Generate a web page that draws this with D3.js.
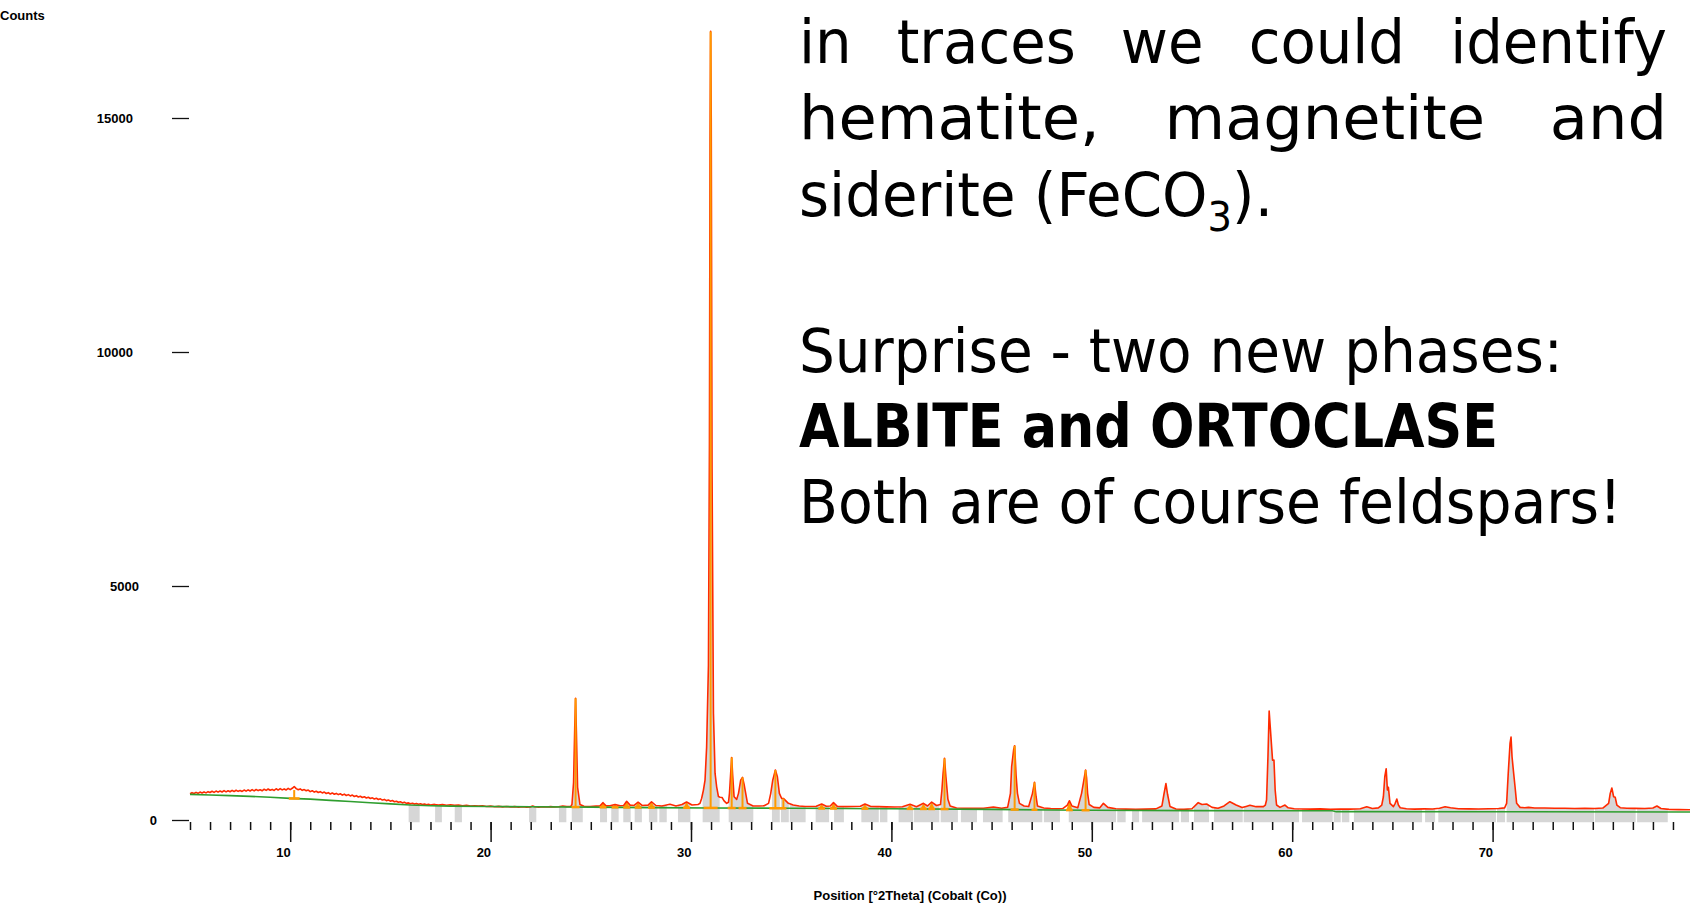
<!DOCTYPE html>
<html><head><meta charset="utf-8">
<script src="https://cdn.jsdelivr.net/npm/d3@7/dist/d3.min.js"></script>
<style>
html,body{margin:0;padding:0;background:#fff;overflow:hidden}
svg{display:block}
</style></head><body>
<svg id="chart" width="1690" height="905"></svg>
<script>
// ---------------- DATA ----------------
// observed XRD profile: [2theta (deg), counts]
const observed = [
[5.0,562],[5.1,584],[5.2,566],[5.3,590],[5.4,570],[5.5,596],[5.6,578],[5.7,600],[5.8,580],[5.9,606],
[6.0,588],[6.1,614],[6.2,590],[6.3,618],[6.4,596],[6.5,620],[6.6,598],[6.7,628],[6.8,602],[6.9,626],
[7.0,604],[7.1,632],[7.2,608],[7.3,636],[7.4,612],[7.5,630],[7.6,610],[7.7,640],[7.8,616],[7.9,644],
[8.0,620],[8.1,648],[8.2,622],[8.3,652],[8.4,628],[8.5,646],[8.6,624],[8.7,658],[8.8,632],[8.9,662],
[9.0,636],[9.1,654],[9.2,632],[9.3,668],[9.4,640],[9.5,672],[9.6,644],[9.7,664],[9.8,642],[9.9,676],
[10.0,650],[10.1,678],[10.2,715],[10.3,670],[10.4,646],[10.5,664],[10.6,634],[10.7,650],[10.8,624],[10.9,640],
[11.0,606],[11.1,626],[11.2,596],[11.3,614],[11.4,588],[11.5,606],[11.6,578],[11.7,596],[11.8,566],[11.9,584],
[12.0,556],[12.1,578],[12.2,550],[12.3,568],[12.4,542],[12.5,560],[12.6,532],[12.7,552],[12.8,524],[12.9,542],
[13.0,514],[13.1,532],[13.2,502],[13.3,520],[13.4,492],[13.5,508],[13.6,482],[13.7,498],[13.8,470],[13.9,486],
[14.0,460],[14.1,474],[14.2,448],[14.3,464],[14.4,438],[14.5,452],[14.6,426],[14.7,440],[14.8,414],[14.9,428],
[15.0,402],[15.1,416],[15.2,390],[15.3,402],[15.4,378],[15.5,390],[15.6,366],[15.7,378],[15.8,356],[15.9,366],
[16.0,346],[16.1,358],[16.2,340],[16.3,352],[16.4,336],[16.5,346],[16.6,330],[16.7,342],[16.8,326],[16.9,336],
[17.0,322],[17.2,333],[17.4,320],[17.6,328],[17.8,316],[18.0,325],[18.2,312],[18.4,320],[18.6,306],[18.8,312],
[19.0,300],[19.2,306],[19.4,296],[19.6,302],[19.8,290],[20.0,296],[20.2,284],[20.4,292],[20.6,280],[20.8,288],
[21.0,279],[21.2,286],[21.4,276],[21.6,284],[21.8,275],[22.0,281],[22.1,300],[22.2,284],[22.4,276],[22.6,284],
[22.8,277],[23.0,286],[23.2,278],[23.4,284],[23.6,298],[23.8,286],[24.0,292],
[24.06,330],[24.14,800],[24.2,2000],[24.24,2600],[24.28,1900],[24.34,700],[24.46,330],[24.66,295],
[24.96,290],[25.26,296],[25.45,300],[25.61,370],[25.76,302],[25.96,305],[26.21,330],[26.46,305],
[26.64,310],[26.79,400],[26.96,318],[27.16,310],[27.36,380],[27.56,310],[27.86,318],[28.03,390],
[28.25,310],[28.55,300],[28.95,335],[29.25,300],[29.55,330],[29.78,385],[30.05,320],[30.35,330],
[30.45,356],[30.53,460],[30.62,640],[30.7,850],[30.78,1560],[30.87,3300],[30.92,8000],[30.95,14500],
[30.98,16850],[31.01,15000],[31.05,7500],[31.12,2280],[31.2,1000],[31.28,710],[31.37,500],[31.45,485],
[31.55,480],[31.65,410],[31.78,356],[31.87,380],[31.92,569],[31.98,1000],[32.03,1337],[32.08,950],
[32.15,497],[32.28,441],[32.37,569],[32.48,853],[32.57,911],[32.65,760],[32.7,640],[32.82,356],
[33.1,299],[33.4,300],[33.65,305],[33.87,356],[33.98,569],[34.08,853],[34.21,1067],[34.31,924],
[34.41,569],[34.52,463],[34.61,460],[34.66,441],[34.86,356],[35.1,320],[35.4,300],[35.7,290],
[36.0,288],[36.25,292],[36.52,341],[36.75,295],[36.95,300],[37.11,370],[37.3,290],[37.7,285],
[38.1,290],[38.45,295],[38.68,341],[38.95,292],[39.35,285],[39.75,280],[40.15,278],[40.55,282],
[40.93,335],[41.25,285],[41.6,356],[41.8,300],[42.01,384],[42.25,310],[42.45,330],[42.52,640],
[42.58,996],[42.65,1316],[42.72,924],[42.82,441],[42.93,299],[43.25,255],[43.65,250],[44.15,248],
[44.6,252],[45.09,277],[45.5,250],[45.8,270],[45.94,569],[46.0,1139],[46.1,1500],[46.15,1586],
[46.22,960],[46.29,569],[46.39,356],[46.62,299],[46.85,290],[47.04,569],[47.14,804],[47.22,497],
[47.29,299],[47.6,255],[47.95,245],[48.25,240],[48.55,245],[48.78,320],[48.88,412],[49.01,299],
[49.3,260],[49.49,569],[49.69,1067],[49.74,900],[49.79,569],[49.87,330],[50.1,270],[50.4,260],
[50.58,356],[50.8,270],[51.2,240],[51.7,232],[52.2,228],[52.7,232],[53.2,238],[53.5,300],
[53.6,550],[53.7,780],[53.78,550],[53.9,290],[54.2,235],[54.6,228],[55.0,240],[55.31,370],
[55.5,330],[55.73,341],[56.0,270],[56.3,250],[56.6,300],[56.89,391],[57.2,320],[57.5,265],
[57.7,290],[57.89,314],[58.2,285],[58.56,285],[58.66,320],[58.72,427],[58.79,1351],[58.85,2326],
[58.95,1707],[59.02,1280],[59.09,1280],[59.15,640],[59.22,320],[59.39,270],[59.64,320],[59.8,260],
[60.1,240],[60.5,235],[60.9,232],[61.4,238],[61.9,230],[62.4,235],[62.9,232],[63.4,240],
[63.72,284],[64.0,245],[64.3,260],[64.47,320],[64.55,497],[64.62,924],[64.69,1095],[64.75,640],
[64.8,698],[64.88,356],[65.05,285],[65.14,356],[65.22,448],[65.3,320],[65.39,263],[65.7,240],
[66.1,232],[66.6,238],[67.0,235],[67.35,250],[67.63,284],[67.9,262],[68.3,240],[68.8,238],
[69.3,235],[69.8,240],[70.3,245],[70.6,260],[70.7,356],[70.78,996],[70.87,1636],[70.92,1771],
[70.97,1351],[71.04,1046],[71.12,711],[71.2,356],[71.37,270],[71.6,262],[71.79,270],[72.1,258],
[72.6,256],[73.1,250],[73.6,252],[74.1,246],[74.6,250],[75.1,246],[75.5,255],[75.79,356],
[75.87,569],[75.95,683],[76.04,497],[76.12,484],[76.2,320],[76.37,263],[76.7,252],[77.1,248],
[77.6,246],[78.0,256],[78.2,299],[78.4,245],[78.8,228],[79.3,222],[79.8,220],[80.0,220]
];
// fitted background
const bgTheta  = [5,6,7,8,9,10,11,12,13,14,15,16,17,18,20,22,25,28,31,35,40,45,48,50,55,62,62.2,70,80];
const bgCounts = [548,535,520,505,485,463,445,420,395,370,345,320,305,296,288,282,275,265,258,250,240,228,215,208,200,198,178,176,172];
// grey peak regions (2theta start / end)
const regionStart = [15.91,17.23,18.21,21.92,23.41,24.05,25.46,26.02,26.62,27.19,27.90,28.42,29.35,30.58,31.88,34.04,34.49,34.93,36.22,37.14,38.50,39.43,40.36,41.13,42.46,43.47,44.57,45.83,47.61,48.85,51.27,52.01,52.51,54.45,55.10,56.10,57.58,60.49,62.07,62.48,63.08,66.63,67.29,70.22,70.70,75.11,77.21];
const regionEnd   = [16.46,17.57,18.57,22.28,23.78,24.60,25.81,26.39,26.99,27.55,28.32,28.79,29.97,31.43,33.11,34.43,34.88,35.72,36.89,37.63,39.37,39.80,41.09,42.39,43.32,44.27,45.55,47.53,48.41,51.21,51.69,52.36,54.35,54.85,55.85,57.53,60.34,62.02,62.42,62.85,66.48,67.13,70.17,70.62,75.07,77.14,78.74];
// identified peaks (orange sticks)
const stickPos   = [10.2,24.24,30.98,32.03,32.57,34.21,34.61,42.65,46.15,47.14,49.69];
const stickTop   = [640,2600,16850,1337,911,1067,460,1316,1586,804,1067];
const stickHalf  = [0.27,0.2,0.35,0.2,0.2,0.3,0.15,0.2,0.2,0.15,0.2];
// small identified peaks (orange filled)
const minorPos = [25.61,26.21,26.79,27.36,28.03,29.78,36.52,37.11,38.68,40.93,41.6,42.01,48.88];
const minorTop = [370,330,400,380,390,385,341,370,341,335,356,384,412];
// axes
const yTickValues = [0,5000,10000,15000];
const xMinorTicks = d3.range(5,80,1);
const xMajorTicks = [10,20,30,40,50,60,70];
const yLabel = "Counts";
const xLabel = "Position [°2Theta] (Cobalt (Co))";

// ---------------- DRAWING ----------------
const svg = d3.select("#chart");
const x = d3.scaleLinear().domain([5,80]).range([190,1693]);
const y = d3.scaleLinear().domain([0,15000]).range([820,118]);
const RED="#ff2a00", ORANGE="#ff9a00", GREEN="#2f9e2f", GREY="#d6d6d6";
const axisFont = "'Liberation Sans', Arial, sans-serif";

function bgAt(t){
  for(let i=0;i<bgTheta.length-1;i++){
    if(t>=bgTheta[i] && t<=bgTheta[i+1]){
      const f=(t-bgTheta[i])/(bgTheta[i+1]-bgTheta[i]);
      return bgCounts[i]+f*(bgCounts[i+1]-bgCounts[i]);
    }
  }
  return bgCounts[bgCounts.length-1];
}

// clip for grey regions
const defs = svg.append("defs");
const cp = defs.append("clipPath").attr("id","regions");
cp.selectAll("rect").data(regionStart).join("rect")
  .attr("x",(d)=>x(d)).attr("width",(d,i)=>x(regionEnd[i])-x(d))
  .attr("y",0).attr("height",905);

const area = d3.area().x(d=>x(d[0])).y0(y(-50)).y1(d=>y(d[1]));
svg.append("path").datum(observed).attr("d",area)
  .attr("fill",GREY).attr("clip-path","url(#regions)");

// orange small peak shapes
minorPos.forEach((p,i)=>{
  const pts=[[p-0.15,bgAt(p-0.15)],[p,minorTop[i]],[p+0.15,bgAt(p+0.15)]];
  svg.append("path").attr("d",d3.line().x(d=>x(d[0])).y(d=>y(d[1]))(pts)+"Z")
    .attr("fill",ORANGE).attr("stroke","none");
});

// observed line
svg.append("path").datum(observed)
  .attr("d",d3.line().x(d=>x(d[0])).y(d=>y(d[1])))
  .attr("fill","none").attr("stroke",RED).attr("stroke-width",1.6).attr("stroke-linejoin","round");

// background line
const bgData = bgTheta.map((t,i)=>[t,bgCounts[i]]);
svg.append("path").datum(bgData)
  .attr("d",d3.line().x(d=>x(d[0])).y(d=>y(d[1])))
  .attr("fill","none").attr("stroke",GREEN).attr("stroke-width",1.6);

// orange sticks + base bars
stickPos.forEach((p,i)=>{
  svg.append("line").attr("x1",x(p)).attr("x2",x(p))
    .attr("y1",y(bgAt(p))).attr("y2",y(stickTop[i]))
    .attr("stroke",ORANGE).attr("stroke-width",2);
  svg.append("line").attr("x1",x(p-stickHalf[i])).attr("x2",x(p+stickHalf[i]))
    .attr("y1",y(bgAt(p))).attr("y2",y(bgAt(p)))
    .attr("stroke",ORANGE).attr("stroke-width",2.5);
});
minorPos.forEach((p,i)=>{
  svg.append("line").attr("x1",x(p-0.17)).attr("x2",x(p+0.17))
    .attr("y1",y(bgAt(p))).attr("y2",y(bgAt(p)))
    .attr("stroke",ORANGE).attr("stroke-width",2.5);
});

// Y axis
const gy = svg.append("g").attr("transform","translate(189,0)")
  .call(d3.axisLeft(y).tickValues(yTickValues).tickSize(17).tickFormat(d3.format("d")));
gy.select(".domain").remove();
gy.selectAll(".tick line").attr("stroke","#111").attr("stroke-width",1.3);
gy.selectAll(".tick text")
  .attr("x",d=>-26-6*String(d).length).attr("dy","0.33em")
  .attr("fill","#000").style("font-family",axisFont).style("font-weight","bold").style("font-size","13px");

// X axis minor
const gxm = svg.append("g").attr("transform","translate(0,822)")
  .call(d3.axisBottom(x).tickValues(xMinorTicks).tickSize(8).tickFormat(""));
gxm.select(".domain").remove();
gxm.selectAll(".tick line").attr("stroke","#111").attr("stroke-width",1.5);
// X axis major
const gx = svg.append("g").attr("transform","translate(0,822)")
  .call(d3.axisBottom(x).tickValues(xMajorTicks).tickSize(20).tickFormat(d3.format("d")));
gx.select(".domain").remove();
gx.selectAll(".tick line").attr("stroke","#111").attr("stroke-width",1.5);
gx.selectAll(".tick text").attr("y",35).attr("dy",0).attr("x",0).attr("text-anchor","end")
  .attr("fill","#000").style("font-family",axisFont).style("font-weight","bold").style("font-size","13px");

// axis titles
svg.append("text").attr("x",0).attr("y",20).text(yLabel)
  .style("font-family",axisFont).style("font-weight","bold").style("font-size","13px");
svg.append("text").attr("x",910).attr("y",900).attr("text-anchor","middle").text(xLabel)
  .style("font-family",axisFont).style("font-weight","bold").style("font-size","13px");

// ---------------- TEXT BLOCK ----------------
const tFont = "'DejaVu Sans Condensed','DejaVu Sans',sans-serif";
const tSize = 60;
const left = 799;
function mk(g, bold){
  return g.append("text").attr("x",0).attr("y",0)
    .style("font-family",tFont).style("font-stretch","condensed")
    .style("font-size",tSize+"px").style("font-weight",bold?"bold":"normal").attr("fill","#000");
}
function plainLine(str, base, right, bold, sub){
  const g = svg.append("g");
  const t = mk(g,bold);
  if(sub){
    t.append("tspan").text(sub[0]);
    t.append("tspan").attr("dy",15).style("font-size","40px").text(sub[1]);
    t.append("tspan").attr("dy",-15).text(sub[2]);
  } else t.text(str);
  const w = t.node().getComputedTextLength();
  const k = (right-left)/w;
  g.attr("transform",`translate(${left},${base}) scale(${k},1)`);
  return k;
}
const k4 = plainLine("Surprise - two new phases:",372,1563,false);
plainLine("ALBITE and ORTOCLASE",447,1498,true);
const k6 = plainLine("Both are of course feldspars!",523,1622,false);
plainLine(null,216,1273,false,["siderite (FeCO","3",")."]);
const kk = (k4+k6)/2;
function justLine(str, base, right, f){
  const words = str.split(" ");
  const kw = kk*f;
  const gs = words.map(w=>{const g=svg.append("g"); const t=mk(g,false).text(w); return {g, w:t.node().getComputedTextLength()*kw};});
  const total = gs.reduce((a,b)=>a+b.w,0);
  const gap = (right-left-total)/(words.length-1);
  let cx = left;
  gs.forEach(o=>{o.g.attr("transform",`translate(${cx},${base}) scale(${kw},1)`); cx += o.w+gap;});
}
justLine("in traces we could identify",63,1667,1.02);
justLine("hematite, magnetite and",139,1667,1.10);
</script></body></html>
